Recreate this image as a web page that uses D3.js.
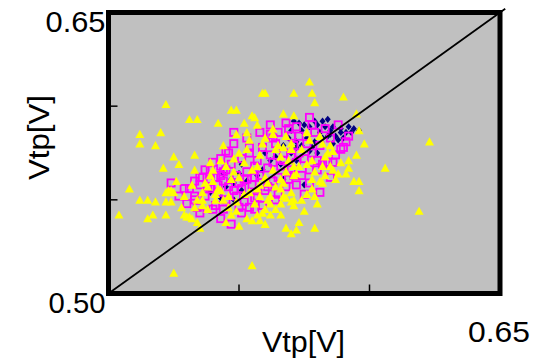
<!DOCTYPE html>
<html><head><meta charset="utf-8">
<script src="https://cdn.jsdelivr.net/npm/d3@7"></script>
<style>html,body{margin:0;padding:0;background:#fff;}svg{display:block;}</style>
</head><body>
<svg id="c" width="541" height="364"></svg>
<script>
// ---- data (Vtp in volts) ----
const xTicks = [0.55, 0.60];
const yTicks = [0.55, 0.60];
const tickLabels = ["0.50", "0.65"];
const axisTitle = "Vtp[V]";
const diagonal = [[0.5, 0.5], [0.652, 0.652]];

const navyPts = [
 [0.571,0.592],[0.570,0.587],[0.572,0.578],[0.572,0.581],[0.547,0.561],[0.548,0.559],[0.539,0.554],
 [0.566,0.569],[0.567,0.561],[0.548,0.550],[0.560,0.575],[0.564,0.573],[0.573,0.591],[0.575,0.590],
 [0.579,0.592],[0.582,0.592],[0.584,0.593],[0.586,0.589],[0.589,0.586],[0.591,0.586],[0.593,0.586],
 [0.588,0.582],[0.586,0.580],[0.581,0.586],[0.584,0.584],[0.575,0.558],[0.578,0.578],[0.570,0.575],
 [0.572,0.571],[0.596,0.587],
 [0.574,0.587],[0.577,0.589],[0.580,0.590],[0.583,0.589],[0.585,0.587],[0.587,0.584],[0.590,0.583],
 [0.576,0.583],[0.579,0.581],[0.582,0.583],[0.585,0.585],[0.574,0.579],[0.577,0.576],[0.589,0.588],
 [0.592,0.589],[0.569,0.583],[0.567,0.579],[0.562,0.571],[0.559,0.566],[0.553,0.560],[0.551,0.555],
 [0.543,0.551],[0.545,0.557],[0.557,0.563],[0.580,0.575],[0.594,0.588],[0.550,0.564],[0.544,0.564],
 [0.551,0.569]
];

const magentaPts = [
 [0.548,0.586],[0.568,0.591],[0.562,0.585],[0.563,0.583],[0.554,0.578],[0.545,0.576],[0.543,0.568],
 [0.545,0.566],[0.536,0.562],[0.538,0.557],[0.524,0.559],[0.533,0.552],[0.533,0.550],[0.540,0.545],
 [0.547,0.537],[0.559,0.547],[0.554,0.546],[0.553,0.561],[0.550,0.559],[0.556,0.568],[0.556,0.562],
 [0.563,0.570],[0.565,0.562],[0.570,0.573],[0.572,0.570],[0.571,0.563],[0.548,0.555],[0.542,0.554],
 [0.543,0.563],[0.561,0.557],[0.557,0.552],[0.545,0.550],[0.550,0.546],[0.543,0.572],[0.539,0.566],
 [0.535,0.562],[0.535,0.558],[0.541,0.562],[0.577,0.594],[0.578,0.590],[0.570,0.584],[0.591,0.581],
 [0.589,0.577],[0.586,0.570],[0.581,0.554],[0.582,0.569],[0.573,0.575],[0.569,0.561],[0.577,0.566],
 [0.567,0.571],[0.564,0.550],
 [0.531,0.556],[0.534,0.546],[0.537,0.552],[0.539,0.561],[0.541,0.547],[0.542,0.558],[0.544,0.565],
 [0.544,0.545],[0.546,0.557],[0.547,0.569],[0.549,0.552],[0.549,0.563],[0.551,0.572],[0.551,0.556],
 [0.552,0.549],[0.553,0.565],[0.554,0.575],[0.555,0.558],[0.556,0.551],[0.557,0.571],[0.558,0.563],
 [0.559,0.578],[0.560,0.555],[0.561,0.567],[0.562,0.574],[0.563,0.560],[0.564,0.580],[0.565,0.553],
 [0.566,0.568],[0.567,0.575],[0.568,0.557],[0.569,0.588],[0.570,0.566],[0.571,0.579],[0.572,0.558],
 [0.573,0.584],[0.574,0.563],[0.575,0.572],[0.576,0.580],[0.577,0.559],[0.578,0.575],[0.579,0.586],
 [0.580,0.566],[0.581,0.579],[0.583,0.588],[0.584,0.570],[0.585,0.583],[0.587,0.574],[0.588,0.590],
 [0.590,0.578],[0.592,0.584],[0.546,0.575],[0.540,0.570],[0.537,0.566],[0.533,0.560],[0.529,0.556],
 [0.527,0.552],[0.530,0.548],[0.535,0.543],[0.543,0.540],[0.551,0.543],[0.556,0.545],[0.548,0.580],
 [0.553,0.583],[0.558,0.586],[0.562,0.590],[0.575,0.553],[0.580,0.571],[0.585,0.562],[0.552,0.561],
 [0.544,0.560],[0.539,0.556],[0.565,0.586],[0.572,0.589]
];

const yellowPts = [
 [0.577,0.613],[0.559,0.607],[0.560,0.607],[0.571,0.607],[0.578,0.607],[0.590,0.605],[0.579,0.602],
 [0.522,0.601],[0.547,0.598],[0.549,0.598],[0.567,0.596],[0.555,0.595],[0.556,0.594],[0.595,0.596],
 [0.531,0.593],[0.534,0.593],[0.542,0.591],[0.552,0.591],[0.563,0.588],[0.596,0.587],[0.512,0.585],
 [0.520,0.586],[0.512,0.580],[0.518,0.579],[0.623,0.581],[0.598,0.580],[0.533,0.574],[0.525,0.573],
 [0.527,0.569],[0.521,0.567],[0.606,0.567],[0.592,0.567],[0.588,0.564],[0.591,0.564],[0.596,0.560],
 [0.596,0.555],[0.508,0.556],[0.524,0.555],[0.522,0.554],[0.512,0.550],[0.515,0.550],[0.518,0.549],
 [0.522,0.549],[0.504,0.542],[0.515,0.540],[0.522,0.542],[0.530,0.541],[0.532,0.540],[0.535,0.535],
 [0.619,0.544],[0.550,0.536],[0.553,0.540],[0.560,0.537],[0.558,0.539],[0.568,0.535],[0.570,0.532],
 [0.573,0.538],[0.572,0.534],[0.579,0.535],[0.570,0.549],[0.574,0.550],[0.579,0.552],[0.555,0.515],
 [0.525,0.511],
 [0.553,0.586],[0.533,0.566],[0.539,0.570],[0.523,0.555],[0.525,0.554],[0.524,0.549],[0.529,0.552],
 [0.533,0.546],[0.529,0.542],[0.531,0.541],[0.517,0.542],[0.537,0.559],[0.540,0.560],[0.543,0.571],
 [0.548,0.565],[0.547,0.561],[0.550,0.575],[0.552,0.570],[0.554,0.582],[0.559,0.580],[0.563,0.585],
 [0.564,0.577],[0.566,0.573],[0.570,0.580],[0.557,0.568],[0.560,0.562],[0.558,0.558],[0.554,0.554],
 [0.543,0.555],[0.546,0.552],[0.549,0.549],[0.558,0.552],[0.562,0.548],[0.564,0.545],[0.559,0.543],
 [0.567,0.559],[0.570,0.554],[0.571,0.568],[0.568,0.565],[0.540,0.566],[0.536,0.554],[0.541,0.550],
 [0.538,0.545],[0.534,0.550],[0.555,0.539],[0.547,0.542],
 [0.571,0.595],[0.595,0.574],[0.594,0.560],[0.582,0.580],[0.585,0.579],[0.584,0.575],[0.576,0.586],
 [0.581,0.584],[0.578,0.571],[0.576,0.569],[0.582,0.568],[0.573,0.568],[0.571,0.563],[0.578,0.561],
 [0.581,0.560],[0.578,0.556],[0.580,0.548],[0.571,0.550],[0.571,0.547],[0.568,0.551],[0.566,0.548],
 [0.567,0.578],[0.570,0.577],[0.568,0.584],[0.566,0.561],[0.566,0.556],
 [0.536,0.550],[0.538,0.557],[0.542,0.556],[0.544,0.550],[0.556,0.548],[0.561,0.550],[0.562,0.542],
 [0.566,0.542],[0.562,0.552],[0.564,0.557],[0.557,0.542],[0.549,0.544],[0.582,0.559],[0.585,0.568],
 [0.586,0.566],[0.583,0.573],
 [0.532,0.558],[0.536,0.547],[0.539,0.563],[0.541,0.553],[0.545,0.568],[0.546,0.546],[0.548,0.572],
 [0.550,0.562],[0.552,0.553],[0.553,0.577],[0.555,0.566],[0.557,0.556],[0.558,0.574],[0.560,0.583],
 [0.561,0.559],[0.563,0.566],[0.565,0.579],[0.567,0.552],[0.569,0.571],[0.572,0.564],[0.574,0.577],
 [0.576,0.553],[0.577,0.582],[0.579,0.565],[0.583,0.563],[0.586,0.576],[0.589,0.570],[0.544,0.579],
 [0.549,0.585],[0.557,0.590],[0.528,0.546],[0.526,0.560],[0.534,0.538],[0.545,0.538],[0.560,0.545],
 [0.575,0.544],[0.587,0.561],[0.592,0.571]
];

// ---- layout ----
const svg = d3.select("#c");
const x = d3.scaleLinear().domain([0.5, 0.65]).range([108.5, 500]);
const y = d3.scaleLinear().domain([0.5, 0.65]).range([293.5, 12.5]);
const font = "'Liberation Sans', Arial, sans-serif";

svg.append("rect")
  .attr("x", x(0.5)).attr("y", y(0.65))
  .attr("width", x(0.65) - x(0.5)).attr("height", y(0.5) - y(0.65))
  .attr("fill", "#c0c0c0");

// ticks (inside)
svg.append("g").selectAll("line").data(xTicks).join("line")
  .attr("x1", d => x(d)).attr("x2", d => x(d))
  .attr("y1", y(0.5)).attr("y2", y(0.5) - 9)
  .attr("stroke", "#000").attr("stroke-width", 1.5);
svg.append("g").selectAll("line").data(yTicks).join("line")
  .attr("y1", d => y(d)).attr("y2", d => y(d))
  .attr("x1", x(0.5)).attr("x2", x(0.5) + 9)
  .attr("stroke", "#000").attr("stroke-width", 1.5);

// series
svg.append("g").selectAll("path").data(navyPts).join("path")
  .attr("transform", d => `translate(${x(d[0])},${y(d[1])})`)
  .attr("d", "M0,-3.6L3,0L0,3.6L-3,0Z")
  .attr("fill", "#000080");

svg.append("g").selectAll("rect").data(magentaPts).join("rect")
  .attr("x", d => x(d[0]) - 3.6).attr("y", d => y(d[1]) - 3.6)
  .attr("width", 7.2).attr("height", 7.2)
  .attr("fill", "none").attr("stroke", "#ff00ff").attr("stroke-width", 1.8);

svg.append("g").selectAll("path").data(yellowPts).join("path")
  .attr("transform", d => `translate(${x(d[0])},${y(d[1])})`)
  .attr("d", "M0,-4.4L4.5,3.8L-4.5,3.8Z")
  .attr("fill", "#ffff00");

// diagonal
svg.append("line")
  .attr("x1", x(diagonal[0][0])).attr("y1", y(diagonal[0][1]))
  .attr("x2", x(diagonal[1][0])).attr("y2", y(diagonal[1][1]))
  .attr("stroke", "#000").attr("stroke-width", 1.8);

// frame
svg.append("rect")
  .attr("x", x(0.5)).attr("y", y(0.65))
  .attr("width", x(0.65) - x(0.5)).attr("height", y(0.5) - y(0.65))
  .attr("fill", "none").attr("stroke", "#000").attr("stroke-width", 5);

// labels
const t = (txt, px, py, anchor, len) => svg.append("text")
  .attr("x", px).attr("y", py).attr("text-anchor", anchor)
  .attr("font-family", font).attr("font-size", 29).attr("fill", "#000")
  .attr("textLength", len).attr("lengthAdjust", "spacingAndGlyphs")
  .text(txt);

t(tickLabels[1], x(0.5) - 3, 32, "end", 60);
t(tickLabels[0], x(0.5) - 3, 313, "end", 57);
t(tickLabels[1], x(0.65) - 1, 342, "middle", 62);
t(axisTitle, 303.5, 352, "middle", 83);
svg.append("text")
  .attr("transform", "translate(49,137.5) rotate(-90)")
  .attr("text-anchor", "middle")
  .attr("font-family", font).attr("font-size", 29).attr("fill", "#000")
  .attr("textLength", 85).attr("lengthAdjust", "spacingAndGlyphs")
  .text(axisTitle);
</script>
</body></html>
